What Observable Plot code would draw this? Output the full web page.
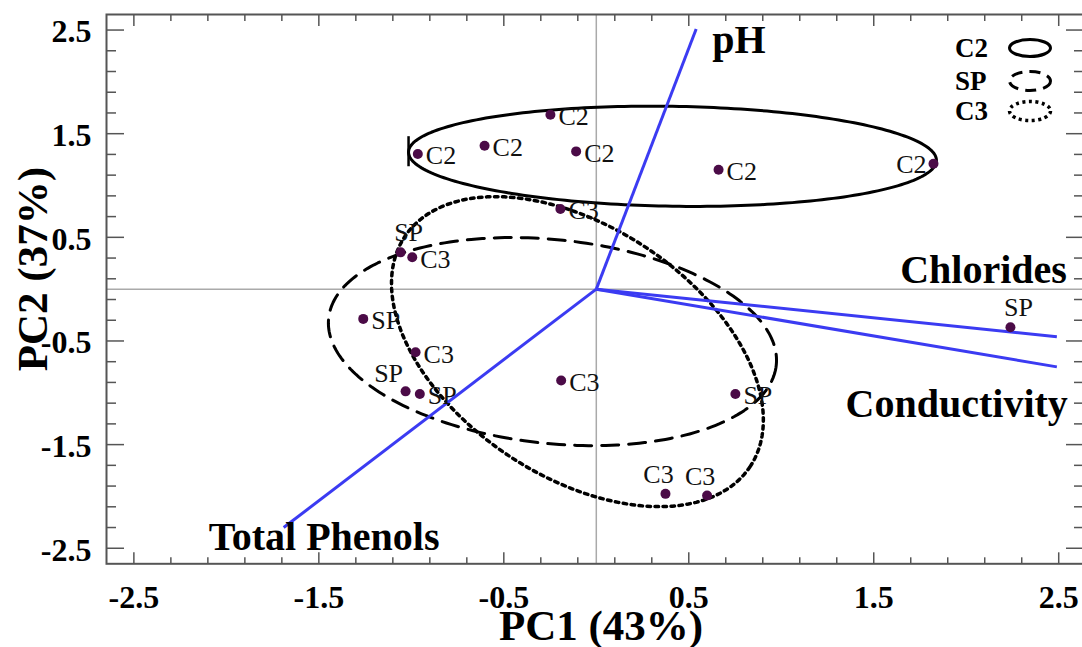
<!DOCTYPE html>
<html><head><meta charset="utf-8">
<script src="https://cdn.jsdelivr.net/npm/d3@7"></script>
<script src="https://cdn.jsdelivr.net/npm/@observablehq/plot@0.6"></script>
<style>
html,body{margin:0;padding:0;background:#fff;overflow:hidden;}
#chart{position:relative;width:1082px;height:647px;}
</style></head><body><div id="chart"></div>
<script>
// ---- data ----
const groups = ["C2", "SP", "C3"];
const scoreGroup = ["C2","C2","C2","C2","C2","C2","SP","SP","SP","SP","SP","SP","C3","C3","C3","C3","C3","C3"];
const scoreX = [-0.248,-0.965,-0.604,-0.109,0.661,1.823, -1.058,-1.260,-1.031,-0.954,0.752,2.239, -0.194,-0.995,-0.977,-0.190,0.374,0.599];
const scoreY = [1.683,1.304,1.384,1.329,1.152,1.210, 0.355,-0.287,-0.986,-1.011,-1.011,-0.368, 0.773,0.307,-0.609,-0.882,-1.975,-1.991];
const labelSide = ["right","right","right","right","right","left", "above-right","right","above-left","right","right","above-right", "right","right","right","right","above","above"];

const variables = ["pH", "Chlorides", "Conductivity", "Total Phenols"];
const loadingX = [0.54, 2.49, 2.49, -1.69];
const loadingY = [2.51, -0.46, -0.75, -2.30];

// confidence ellipses: centre and two conjugate semi-axis vectors (data units)
const ellCX = [0.412, -0.237, -0.102];
const ellCY = [1.282, -0.506, -0.603];
const ellUX = [1.427, 1.210, 0.933];
const ellUY = [-0.039, -0.227, -1.111];
const ellVX = [0.0, -0.058, -0.374];
const ellVY = [-0.482, -0.978, -1.001];

const majorTicks = [-2.5, -1.5, -0.5, 0.5, 1.5, 2.5];
const tickLabels = ["-2.5", "-1.5", "-0.5", "0.5", "1.5", "2.5"];
const xTitle = "PC1 (43%)";
const yTitle = "PC2 (37%)";

// ---- build ----
const serif = "'Liberation Serif','Times New Roman',Times,serif";
const scores = scoreGroup.map((g, i) => ({group: g, x: scoreX[i], y: scoreY[i], side: labelSide[i]}));
const loadings = variables.map((v, i) => ({name: v, x: loadingX[i], y: loadingY[i]}));
const ellipsePts = groups.map((g, i) => d3.range(0, 241).map(k => {
  const t = 2 * Math.PI * k / 240;
  return {group: g, x: ellCX[i] + ellUX[i] * Math.cos(t) + ellVX[i] * Math.sin(t),
                    y: ellCY[i] + ellUY[i] * Math.cos(t) + ellVY[i] * Math.sin(t)};
}));
const minorTicks = d3.range(-2.5, 2.6, 0.2).map(v => +v.toFixed(1)).filter(v => !majorTicks.includes(v));
const ticks = majorTicks.map((v, i) => ({v, label: tickLabels[i]}));

const sideStyle = {
  "right": {dx: 8, dy: 2, textAnchor: "start"},
  "left": {dx: -7, dy: 1, textAnchor: "end"},
  "above": {dx: -7, dy: -19, textAnchor: "middle"},
  "above-right": {dx: 8, dy: -20, textAnchor: "middle"},
  "above-left": {dx: -17, dy: -18, textAnchor: "middle"}
};
const varStyle = {
  "pH": {dx: 16, dy: 11, textAnchor: "start"},
  "Chlorides": {dx: 10, dy: -67, textAnchor: "end"},
  "Conductivity": {dx: 11, dy: 37, textAnchor: "end"},
  "Total Phenols": {dx: -75, dy: 10, textAnchor: "start"}
};
const dashes = {"C2": null, "SP": "17,10", "C3": "3.5,4.5"};
const widths = {"C2": 3, "SP": 3, "C3": 3.5};

const axisColor = "#555";
const blue = "#3b3bf2";
const dotColor = "#4b0b47";

const marks = [
  Plot.ruleX([0], {stroke: "#aaa", strokeWidth: 1.5}),
  Plot.ruleY([0], {stroke: "#aaa", strokeWidth: 1.5}),
  ...groups.map((g, i) => Plot.line(ellipsePts[i], {x: "x", y: "y", stroke: "#000", strokeWidth: widths[g], strokeDasharray: dashes[g], curve: "linear"})),
  // small end bar at the left end of the C2 ellipse
  Plot.ruleX([{x: ellCX[0] - ellUX[0], y1: ellCY[0] - ellUY[0] - 0.14, y2: ellCY[0] - ellUY[0] + 0.15}], {x: "x", y1: "y1", y2: "y2", stroke: "#000", strokeWidth: 2.5}),
  Plot.link(loadings, {x1: 0, y1: 0, x2: "x", y2: "y", stroke: blue, strokeWidth: 3}),
  Plot.dot(scores, {x: "x", y: "y", r: 5, fill: dotColor, stroke: "none"}),
  ...Object.entries(sideStyle).map(([side, s]) => Plot.text(scores.filter(d => d.side === side), {
    x: "x", y: "y", text: "group", dx: s.dx, dy: s.dy, textAnchor: s.textAnchor, lineAnchor: "middle",
    fontSize: 26, fontFamily: serif, fill: "#111"})),
  ...loadings.map(d => Plot.text([d], {x: "x", y: "y", text: "name", dx: varStyle[d.name].dx, dy: varStyle[d.name].dy,
    textAnchor: varStyle[d.name].textAnchor, lineAnchor: "middle", fontSize: 40, fontWeight: "bold", fontFamily: serif, fill: "#000"})),
  // ticks (inward) on all four sides
  Plot.axisX({anchor: "bottom", ticks: majorTicks, tickSize: -11, fill: "none", label: null, stroke: axisColor, strokeWidth: 1.5}),
  Plot.axisX({anchor: "bottom", ticks: minorTicks, tickSize: -6, fill: "none", label: null, stroke: axisColor, strokeWidth: 1.5}),
  Plot.axisX({anchor: "top", ticks: majorTicks, tickSize: -11, fill: "none", label: null, stroke: axisColor, strokeWidth: 1.5}),
  Plot.axisX({anchor: "top", ticks: minorTicks, tickSize: -6, fill: "none", label: null, stroke: axisColor, strokeWidth: 1.5}),
  Plot.axisY({anchor: "left", ticks: majorTicks, tickSize: -18, fill: "none", label: null, stroke: axisColor, strokeWidth: 1.5}),
  Plot.axisY({anchor: "left", ticks: minorTicks, tickSize: -10, fill: "none", label: null, stroke: axisColor, strokeWidth: 1.5}),
  Plot.axisY({anchor: "right", ticks: majorTicks, tickSize: -18, fill: "none", label: null, stroke: axisColor, strokeWidth: 1.5}),
  Plot.axisY({anchor: "right", ticks: minorTicks, tickSize: -10, fill: "none", label: null, stroke: axisColor, strokeWidth: 1.5}),
  Plot.frame({stroke: axisColor, strokeWidth: 2}),
  // tick labels
  Plot.text(ticks, {x: "v", frameAnchor: "bottom", text: "label", dy: 34, lineAnchor: "middle", textAnchor: "middle", fontSize: 32, fontWeight: "bold", fontFamily: serif, fill: "#000"}),
  Plot.text(ticks, {y: "v", frameAnchor: "left", text: "label", dx: -15, dy: 2, textAnchor: "end", lineAnchor: "middle", fontSize: 32, fontWeight: "bold", fontFamily: serif, fill: "#000"}),
  // axis titles
  Plot.text([xTitle], {frameAnchor: "bottom", dx: 6, dy: 62, textAnchor: "middle", lineAnchor: "middle", fontSize: 43, fontWeight: "bold", fontFamily: serif, fill: "#000"}),
  Plot.text([yTitle], {frameAnchor: "left", dx: -73, dy: -20, rotate: -90, textAnchor: "middle", lineAnchor: "middle", fontSize: 43, fontWeight: "bold", fontFamily: serif, fill: "#000"})
];

const chart = Plot.plot({
  width: 1082, height: 647,
  marginLeft: 106, marginRight: -1, marginTop: 14, marginBottom: 83.7,
  x: {domain: [-2.648, 2.634]},
  y: {domain: [-2.65, 2.65]},
  style: {fontFamily: serif, background: "#fff", overflow: "visible"},
  marks
});
document.getElementById("chart").appendChild(chart);

// legend (top-right, inside plot)
const svg = d3.select(chart);
const lg = svg.append("g").attr("class", "legend");
const legendRows = [{y: 48, ry: 8.5}, {y: 81, ry: 9.5}, {y: 111, ry: 9.5}];
groups.forEach((g, i) => {
  lg.append("text").attr("x", 955).attr("y", legendRows[i].y).attr("dy", "0.35em").attr("text-anchor", "start")
    .attr("font-family", serif).attr("font-weight", "bold").attr("font-size", 27).attr("fill", "#000").text(g);
  lg.append("ellipse").attr("cx", 1030).attr("cy", legendRows[i].y).attr("rx", 20.5).attr("ry", legendRows[i].ry)
    .attr("fill", "none").attr("stroke", "#000").attr("stroke-width", widths[g])
    .attr("stroke-dasharray", dashes[g] ? (g === "SP" ? "11,7" : "3,3.5") : null);
});
</script></body></html>
